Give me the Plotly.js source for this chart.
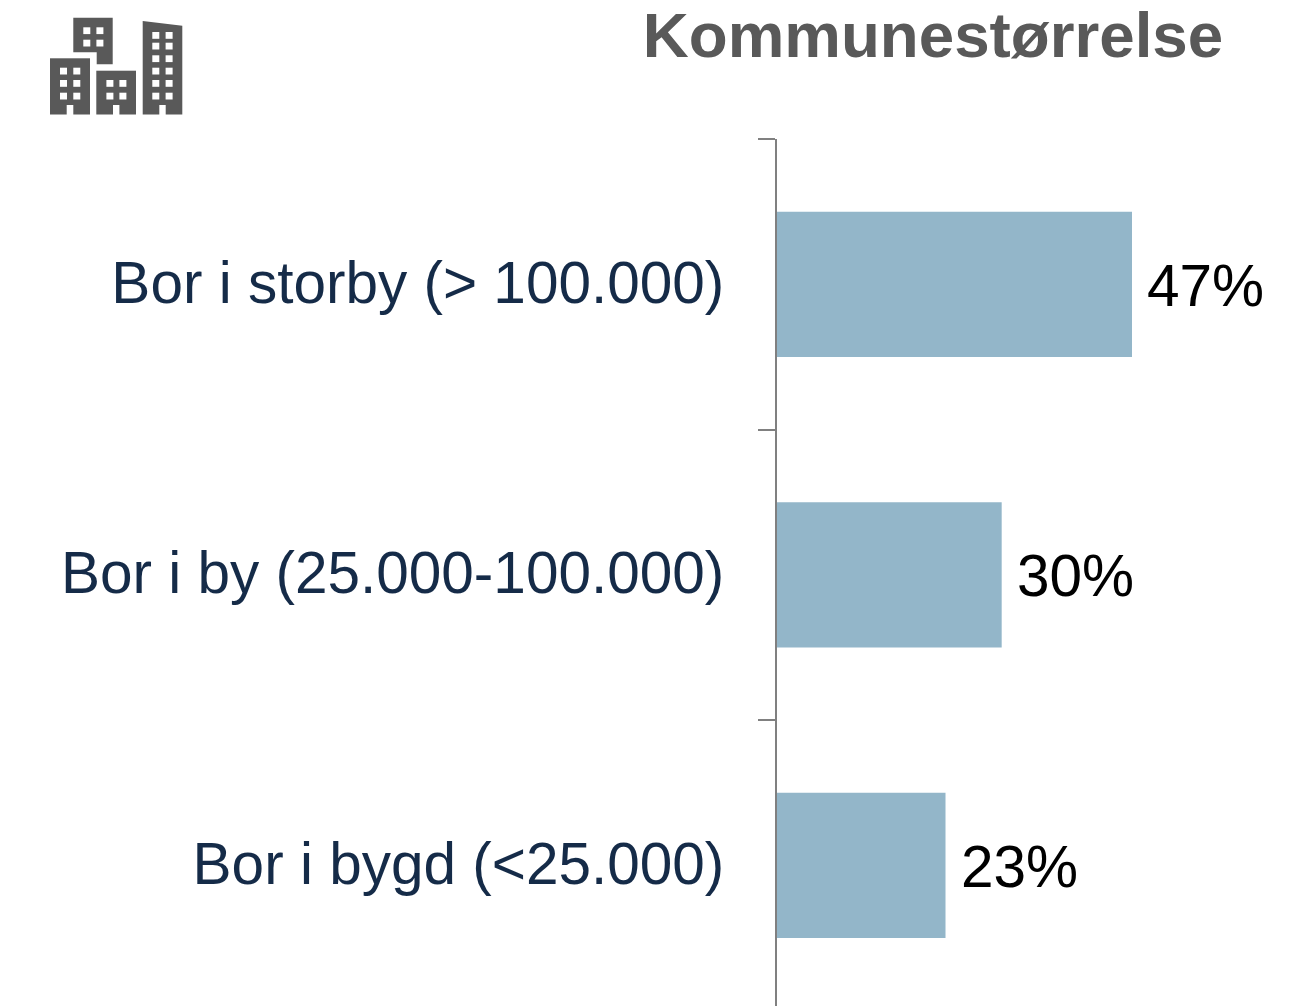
<!DOCTYPE html>
<html><head><meta charset="utf-8">
<script src="https://cdn.plot.ly/plotly-3.0.1.min.js"></script>
<style>html,body{margin:0;padding:0;background:#fff;overflow:hidden}</style>
</head><body><div id="c" style="width:1302px;height:1006px"></div>
<script>
const categories = ["Bor i storby (> 100.000)", "Bor i by (25.000-100.000)", "Bor i bygd (<25.000)"];
const values = [47.4, 30, 22.5];
const labels = ["47%", "30%", "23%"];
const chartTitle = "Kommunestørrelse";

function rects(list){return list.map(r=>`<rect x="${r[0]}" y="${r[1]}" width="${r[2]}" height="${r[3]}" fill="#fff"/>`).join('');}
const wins=[];
for(const x of [60,73.3]) for(const y of [67.7,80,92.7]) wins.push([x,y,7,6.8]);
for(const x of [83.3,96.4]) for(const y of [27.3,39.7]) wins.push([x,y,7,6.8]);
for(const x of [106.4,119.4]) for(const y of [80,92.7]) wins.push([x,y,7,6.8]);
for(const x of [152.3,165.6]) for(const y of [32,42.7,55.3,67.7,80,92.7]) wins.push([x,y,7,6.8]);
const doors=[[66.7,105,6.6,10],[113,105,6.4,10],[159.3,105,6.4,10]];
const svg=`<svg xmlns="http://www.w3.org/2000/svg" viewBox="40 10 150 110" width="150" height="110"><g fill="#595959">`+
`<rect x="50" y="58.3" width="40" height="56.2"/><rect x="96.3" y="70.7" width="39.7" height="43.8"/>`+
`<path d="M73.3 17.7H112.7V64.3H96.7V52.3H73.3Z"/><path d="M142.7 21L182.3 25.7V114.5H142.7Z"/></g>`+
rects(wins)+rects(doors)+`</svg>`;

const W=1302,H=1006,L=777,T=139,band=290.5;
const plotW=W-L,plotH=H-T;
const px=x=>(x-L)/plotW, py=y=>1-(y-T)/plotH;

const trace={type:'bar',orientation:'h',x:values,y:categories,width:0.5,
  marker:{color:'#93b6c9',line:{width:0}},hoverinfo:'skip',cliponaxis:false};

const layout={width:W,height:H,margin:{l:L,r:0,t:T,b:0,pad:0},
  paper_bgcolor:'#fff',plot_bgcolor:'#fff',showlegend:false,
  title:{text:'<b>'+chartTitle+'</b>',font:{family:'Liberation Sans',size:63.7,color:'#595959'},
    xref:'container',yref:'container',x:933/W,xanchor:'center',y:1-35/H,yanchor:'middle'},
  xaxis:{range:[0,plotW/(355/47.4)],visible:false,fixedrange:true},
  yaxis:{type:'category',categoryorder:'array',categoryarray:categories,
    range:[-0.5+plotH/band,-0.5],tickson:'boundaries',ticks:'outside',ticklen:17,tickwidth:2,tickcolor:'#808080',
    showline:true,linecolor:'#808080',linewidth:2,showgrid:false,zeroline:false,
    tickfont:{family:'Liberation Sans',size:58.5,color:'#152b48'},ticklabelstandoff:39,ticklabelshift:2,fixedrange:true},
  annotations:categories.map((c,i)=>({x:values[i],y:c,xref:'x',yref:'y',text:labels[i],showarrow:false,
    xanchor:'left',yanchor:'middle',xshift:13,yshift:-1,font:{family:'Liberation Sans',size:58.5,color:'#000'}})),
  images:[{source:'data:image/svg+xml;charset=utf-8,'+encodeURIComponent(svg),xref:'paper',yref:'paper',
    x:px(40),y:py(10),sizex:150/plotW,sizey:110/plotH,xanchor:'left',yanchor:'top',sizing:'stretch',layer:'above'}]
};
Plotly.newPlot('c',[trace],layout,{displayModeBar:false,staticPlot:true});
</script></body></html>
